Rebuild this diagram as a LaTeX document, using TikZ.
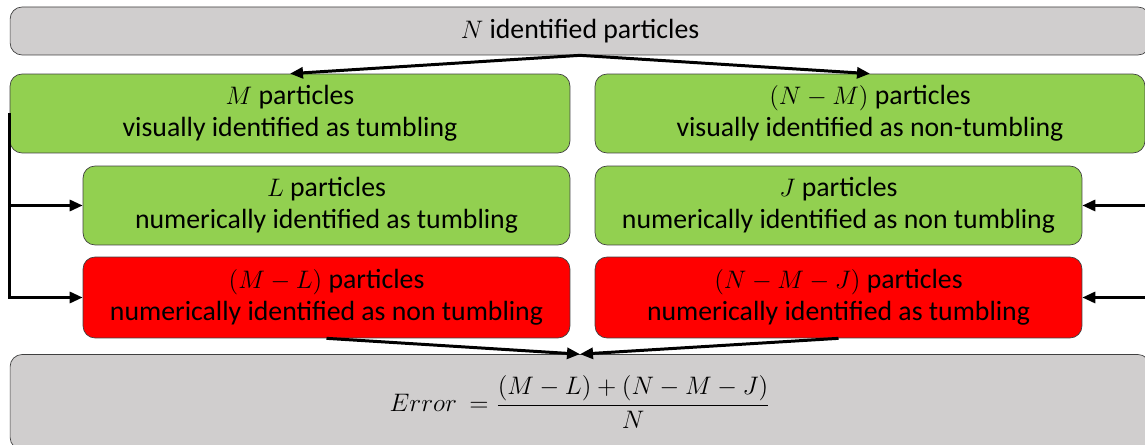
\documentclass[tikz,border=0pt]{standalone}
\usepackage{amsmath}
\usepackage{fontspec}
\setmainfont{Carlito}
\definecolor{boxgray}{HTML}{D0CECE}
\definecolor{boxgreen}{HTML}{92D050}
\definecolor{boxred}{HTML}{FF0000}
\definecolor{edge}{HTML}{404040}
\usetikzlibrary{arrows.meta, positioning}

\tikzset{
  panel/.style={draw=edge, rounded corners=0.24cm, align=center, inner sep=0pt,
    font=\fontsize{15.8}{18.2}\selectfont, minimum height=1.58cm},
  graybox/.style={panel, fill=boxgray},
  greenbox/.style={panel, fill=boxgreen},
  redbox/.style={panel, fill=boxred},
  conn/.style={black, line width=1.7pt, -{Triangle[length=0.26cm, width=0.22cm]}}
}

\begin{document}
\begin{tikzpicture}[x=0.02cm, y=-0.02cm]
\useasboundingbox (0,0) rectangle (1145,445);

% Header and result
\node[graybox, minimum width=22.8cm, minimum height=0.96cm] (total) at (580,31) {$N$ identified particles};
\node[graybox, minimum width=22.8cm, minimum height=1.9cm, font=\fontsize{13.7}{18}\selectfont] (error) at (580,402)
  {$Error\ = \dfrac{(M-L)+(N-M-J)}{N}$};

% Visual classification
\node[greenbox, minimum width=11.2cm] (vis) at (290,113.5) {$M$ particles\\visually identified as tumbling};
\node[greenbox, minimum width=11.0cm] (nvis) at (870,113.5) {$(N-M)$ particles\\visually identified as non-tumbling};

% Numerical classification
\node[greenbox, minimum width=9.74cm] (numt) at (326.5,205.5) {$L$ particles\\numerically identified as tumbling};
\node[greenbox, minimum width=9.74cm] (numn) at (838.5,205.5) {$J$ particles\\numerically identified as non tumbling};
\node[redbox, minimum width=9.74cm, minimum height=1.62cm] (errl) at (326.5,297.5) {$(M-L)$ particles\\numerically identified as non tumbling};
\node[redbox, minimum width=9.74cm, minimum height=1.62cm] (errr) at (838.5,297.5) {$(N-M-J)$ particles\\numerically identified as tumbling};

% Connectors
\draw[conn] (total.south) -- (vis.north);
\draw[conn] (total.south) -- (nvis.north);
\draw[conn] (vis.west) |- (errl.west);
\draw[conn] (vis.west |- numt.west) -- (numt.west);
\coordinate (rside) at (1147,250);
\draw[conn] (numn.east -| rside) -- (numn.east);
\draw[conn] (errr.east -| rside) -- (errr.east);
\draw[conn] (errl.south) -- (error.north);
\draw[conn] (errr.south) -- (error.north);

\end{tikzpicture}
\end{document}
